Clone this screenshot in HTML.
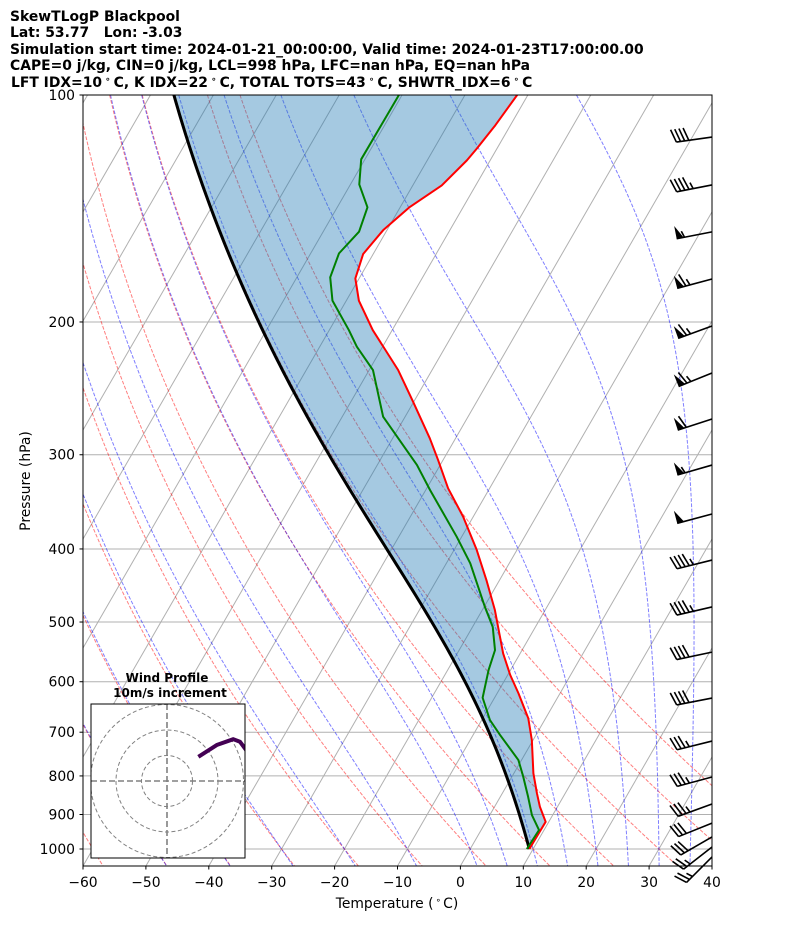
<!DOCTYPE html>
<html><head><meta charset="utf-8">
<style>
html,body{margin:0;padding:0;background:#fff;}
svg{display:block;font-family:"DejaVu Sans","Liberation Sans",sans-serif;}
</style></head>
<body>
<svg id="chart" width="794" height="937" viewBox="0 0 794 937" xmlns="http://www.w3.org/2000/svg">
<defs>
<clipPath id="plotclip"><rect x="83" y="95" width="629" height="771"/></clipPath>
<clipPath id="hodoclip"><rect x="91" y="704" width="154" height="154"/></clipPath>
</defs>
<g font-weight="bold" font-size="13.9" fill="#000" style="white-space:pre">
<text x="10" y="21">SkewTLogP Blackpool</text>
<text x="10" y="37" xml:space="preserve">Lat: 53.77   Lon: -3.03</text>
<text x="10" y="54">Simulation start time: 2024-01-21_00:00:00, Valid time: 2024-01-23T17:00:00.00</text>
<text x="10" y="70">CAPE=0 j/kg, CIN=0 j/kg, LCL=998 hPa, LFC=nan hPa, EQ=nan hPa</text>
<text x="11" y="87" xml:space="preserve">LFT IDX=10<tspan font-size="9" dx="3" dy="-5">∘</tspan><tspan dx="3" dy="5">C, K IDX=22</tspan><tspan font-size="9" dx="3" dy="-5">∘</tspan><tspan dx="3" dy="5">C, TOTAL TOTS=43</tspan><tspan font-size="9" dx="3" dy="-5">∘</tspan><tspan dx="3" dy="5">C, SHWTR_IDX=6</tspan><tspan font-size="9" dx="3" dy="-5">∘</tspan><tspan dx="3" dy="5">C</tspan></text>
</g>
<g id="bg" clip-path="url(#plotclip)"></g>
<g id="fill" clip-path="url(#plotclip)"></g>
<g id="series" clip-path="url(#plotclip)"></g>
<g id="barbs"></g>
<rect x="83" y="95" width="629" height="771" fill="none" stroke="#000" stroke-width="1"/>
<g id="axes" font-size="13.9" fill="#000"></g>
<text x="397" y="908" text-anchor="middle" font-size="13.9">Temperature (<tspan font-size="9" dx="2" dy="-5">∘</tspan><tspan dx="2" dy="5">C)</tspan></text>
<text transform="translate(30,481) rotate(-90)" text-anchor="middle" font-size="13.9">Pressure (hPa)</text>
<g id="hodo">
<text x="167" y="682" text-anchor="middle" font-weight="bold" font-size="12">Wind Profile</text>
<text x="170" y="697" text-anchor="middle" font-weight="bold" font-size="12">10m/s increment</text>
<rect x="91" y="704" width="154" height="154" fill="#fff" stroke="none"/>
<g id="hodoinner" clip-path="url(#hodoclip)"></g>
<rect x="91" y="704" width="154" height="154" fill="none" stroke="#000" stroke-width="1"/>
</g>
</svg>
<script>
// ---- data ----
const tempPressure = [100,109.7,117.8,122.1,131.8,140.8,151.1,162.5,175.1,187.4,205.0,231.6,255.2,285.3,304.8,332.4,362.5,401.2,439.8,482.0,550.4,587.8,621.7,671.0,716.9,793.6,843.6,878.9,920.3,1000];
const tempValues = [-61.7,-62.4,-63.2,-63.7,-65.4,-68.5,-70.6,-71.6,-70.6,-68.0,-63.1,-55.4,-50.1,-44.1,-40.8,-36.6,-31.6,-26.4,-22.1,-18.0,-12.7,-9.6,-6.6,-2.75,-0.2,3.1,5.5,7.2,9.5,9.4];
const dewPressure = [100,121.7,131.4,140.9,151.8,162.2,174.5,187.4,205.0,215.7,231.6,267.1,309.5,334.2,385.3,417.9,477.2,507.4,544.8,578.8,630.1,674.4,706.1,762.1,801.9,852.3,901.6,943.7,1000];
const dewValues = [-80.5,-80.6,-78.6,-75.2,-74.3,-75.5,-74.7,-72.2,-66.9,-64.1,-59.4,-53.5,-43.7,-39.3,-30.8,-26.2,-19.9,-16.8,-14.3,-13.5,-11.9,-8.7,-5.7,-0.5,1.8,4.4,6.7,9.2,9.0];
const parcelStartPressure = 1000;
const parcelStartTemp = 9.4;
const pressureTicks = [100,200,300,400,500,600,700,800,900,1000];
const tempTicks = [-60,-50,-40,-30,-20,-10,0,10,20,30,40];
const dryAdiabatT0 = [-60,-50,-40,-30,-20,-10,0,10,20,30,40,50];
const moistAdiabatT0 = [-50,-40,-30,-20,-10,0,5,10,15,20,25,30,35];
const barbPressure = [113.7,131.6,151.9,175.4,202.5,233.7,269.0,309.6,359.5,413.8,477.5,548.1,630.7,719.2,802.7,871.6,923.9,964.0,993.9,1024.7];
const barbSpeed = [40,45,55,65,65,65,60,55,50,45,45,40,40,35,35,35,30,30,25,25];
const barbTilt = [8,11,11,15,20,22,18,16,15,14,13,12,11,14,15,20,22,30,38,45];
const hodoU = [12.3,19.5,26.0,28.6,31.0,32.5];
const hodoV = [9.5,14.1,16.4,15.4,12.2,8.2];

// ---- axes ----
const NS='http://www.w3.org/2000/svg';
const pTop=100, pBot=Math.pow(10,2+771/754);
function Y(p){return 95+754*(Math.log10(p)-2);}
function X(T,p){return 83+(T+60)*6.29+0.577*(866-Y(p));}
function mk(tag,attrs,parent){const e=document.createElementNS(NS,tag);for(const k in attrs)e.setAttribute(k,attrs[k]);parent.appendChild(e);return e;}
function pathD(pts){return pts.map((q,i)=>(i?'L':'M')+q[0].toFixed(2)+' '+q[1].toFixed(2)).join(' ');}
const bg=document.getElementById('bg'), axes=document.getElementById('axes'), series=document.getElementById('series');

const pGrid=[];for(let i=0;i<=120;i++){pGrid.push(Math.pow(10,Math.log10(pTop)+(Math.log10(pBot)-Math.log10(pTop))*i/120));}

pressureTicks.forEach(p=>{
  const l=mk('line',{x1:83,x2:712,y1:Y(p),y2:Y(p),stroke:'#b0b0b0','stroke-width':1},bg);
  
  
});
for(let T=-170;T<=40;T+=10){
  const l=mk('line',{x1:X(T,pBot),y1:866,x2:X(T,pTop),y2:95,stroke:'#b0b0b0','stroke-width':1},bg);
  
  
}
dryAdiabatT0.forEach(t0=>{
  const th=t0+273.15;
  const pts=pGrid.map(p=>[X(th*Math.pow(p/1000,0.2857)-273.15,p),Y(p)]);
  const e=mk('path',{d:pathD(pts),fill:'none',stroke:'#ff0000','stroke-opacity':0.5,'stroke-width':1,'stroke-dasharray':'3.7,1.6'},bg);
  
  
});
function dTdp(p,T){
  const Rd=287.04,Cp=1005.7,Lv=2.501e6,eps=0.622;
  const Tc=T-273.15;const es=6.112*Math.exp(17.67*Tc/(Tc+243.5));const rs=eps*es/Math.max(p-es,1e-3);
  return (Rd*T+Lv*rs)/(Cp+Lv*Lv*rs*eps/(Rd*T*T))/p;
}
function moistCurve(T0C,p0,pList){
  const sorted=pList.slice().sort((a,b)=>b-a);
  let T=T0C+273.15,p=p0;
  const res={};
  const up=sorted.filter(q=>q<=p0), down=sorted.filter(q=>q>p0).reverse();
  for(const pt of up){const n=8,h=(pt-p)/n;for(let i=0;i<n;i++){const k1=dTdp(p,T),k2=dTdp(p+h/2,T+h*k1/2),k3=dTdp(p+h/2,T+h*k2/2),k4=dTdp(p+h,T+h*k3);T+=h*(k1+2*k2+2*k3+k4)/6;p+=h;}res[pt]=T-273.15;}
  T=T0C+273.15;p=p0;
  for(const pt of down){const n=8,h=(pt-p)/n;for(let i=0;i<n;i++){const k1=dTdp(p,T),k2=dTdp(p+h/2,T+h*k1/2),k3=dTdp(p+h/2,T+h*k2/2),k4=dTdp(p+h,T+h*k3);T+=h*(k1+2*k2+2*k3+k4)/6;p+=h;}res[pt]=T-273.15;}
  return pList.map(q=>[q,res[q]]);
}
moistAdiabatT0.forEach(t0=>{
  const pts=moistCurve(t0,1000,pGrid).map(a=>[X(a[1],a[0]),Y(a[0])]);
  const e=mk('path',{d:pathD(pts),fill:'none',stroke:'#0000ff','stroke-opacity':0.5,'stroke-width':1,'stroke-dasharray':'3.7,1.6'},bg);
  
  
});

// parcel (ordered top -> bottom, like temperature)
const parcelP=pGrid.filter(p=>p<parcelStartPressure);
parcelP.push(parcelStartPressure);
const parcel=moistCurve(parcelStartTemp,parcelStartPressure,parcelP).sort((a,b)=>a[0]-b[0]);
const parcelPts=parcel.map(a=>[X(a[1],a[0]),Y(a[0])]);
const tempPts=tempPressure.map((p,i)=>[X(tempValues[i],p),Y(p)]);
// shading: temperature top->bottom, then parcel bottom->top
const fillPts=tempPts.concat(parcelPts.slice().reverse());
const fp=mk('path',{d:pathD(fillPts)+' Z',fill:'rgb(31,119,180)','fill-opacity':0.4,stroke:'none'},document.getElementById('fill'));



const parcelPath=mk('path',{d:pathD(parcelPts),fill:'none',stroke:'#000','stroke-width':3},series);


const tPath=mk('path',{d:pathD(tempPts),fill:'none',stroke:'#ff0000','stroke-width':2,'stroke-linejoin':'round'},series);


const dPath=mk('path',{d:pathD(dewPressure.map((p,i)=>[X(dewValues[i],p),Y(p)])),fill:'none',stroke:'#008000','stroke-width':2,'stroke-linejoin':'round'},series);



pressureTicks.forEach(p=>{
  const y=Y(p);
  const t=mk('line',{x1:79.5,x2:83,y1:y,y2:y,stroke:'#000','stroke-width':1},axes);
  
  
  const tx=mk('text',{x:75,y:y+5,'text-anchor':'end'},axes);tx.textContent=p;
  
  
});
tempTicks.forEach(T=>{
  const x=83+(T+60)*6.29;
  const t=mk('line',{x1:x,x2:x,y1:866,y2:869.5,stroke:'#000','stroke-width':1},axes);
  
  
  const tx=mk('text',{x:x,y:887,'text-anchor':'middle'},axes);tx.textContent=(T<0?'\u2212'+(-T):String(T));
  
  
});

const barbs=document.getElementById('barbs');
barbPressure.forEach((p,i)=>{
  const a=barbTilt[i]*Math.PI/180;
  const ux=-Math.cos(a),uy=Math.sin(a);
  const nx=-Math.sin(a),ny=-Math.cos(a);
  const sx=712,sy=Y(p),L=36,BL=13,SP=4.2;
  const g=mk('g',{},barbs);
  
  
  const tx=sx+ux*L,ty=sy+uy*L;
  mk('line',{x1:sx,y1:sy,x2:tx,y2:ty,stroke:'#000','stroke-width':1.6},g);
  let s=Math.round(barbSpeed[i]/5)*5;let pos=0;
  const flags=Math.floor(s/50);s-=flags*50;const full=Math.floor(s/10);s-=full*10;const half=s>=5?1:0;
  for(let f=0;f<flags;f++){
    const bx=tx-ux*pos,by=ty-uy*pos;
    const cx=tx-ux*(pos+7),cy=ty-uy*(pos+7);
    mk('polygon',{points:`${bx},${by} ${bx+nx*BL},${by+ny*BL} ${cx},${cy}`,fill:'#000'},g);
    pos+=8;
  }
  if(flags&&full)pos+=1;
  for(let f=0;f<full;f++){
    const bx=tx-ux*pos,by=ty-uy*pos;
    mk('line',{x1:bx,y1:by,x2:bx+nx*BL+ux*4,y2:by+ny*BL+uy*4,stroke:'#000','stroke-width':1.6},g);
    pos+=SP;
  }
  if(half){
    if(pos===0)pos=SP;
    const bx=tx-ux*pos,by=ty-uy*pos;
    mk('line',{x1:bx,y1:by,x2:bx+nx*BL/2+ux*2,y2:by+ny*BL/2+uy*2,stroke:'#000','stroke-width':1.6},g);
  }
});

const hi=document.getElementById('hodoinner');
const hcx=167,hcy=781,hs=2.55;
[10,20,30].forEach(r=>{
  const c=mk('circle',{cx:hcx,cy:hcy,r:r*hs,fill:'none',stroke:'#808080','stroke-width':1,'stroke-dasharray':'4,2.5'},hi);
  
  
});
const hl1=mk('line',{x1:91,x2:245,y1:hcy,y2:hcy,stroke:'#808080','stroke-width':1.6,'stroke-dasharray':'6,3'},hi);


const hl2=mk('line',{x1:hcx,x2:hcx,y1:704,y2:858,stroke:'#808080','stroke-width':1.6,'stroke-dasharray':'6,3'},hi);


const hp=mk('path',{d:pathD(hodoU.map((u,i)=>[hcx+u*hs,hcy-hodoV[i]*hs])),fill:'none',stroke:'#440154','stroke-width':4,'stroke-linejoin':'round'},hi);


</script>
</body></html>
